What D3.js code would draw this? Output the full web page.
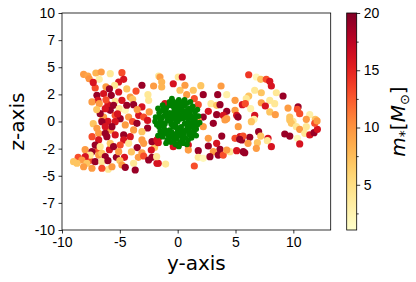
<!DOCTYPE html>
<meta charset="utf-8">
<title>stars</title>
<style>
    body { margin: 0; background: #fff; }
    svg { display: block; font-family: "DejaVu Sans", sans-serif; }
    .axis text { font-size: 14px; fill: #000; }
    .axis line { stroke: #000; stroke-width: 0.8; }
    .axis .domain { display: none; }
    .frame { fill: none; stroke: #000; stroke-width: 0.8; }
</style>
<body>
<svg id="chart" width="416" height="282"></svg>
<script src="https://cdn.jsdelivr.net/npm/d3@7"></script>
<script>
    // ticks
    var xTicks = [-10, -5, 0, 5, 10];
    var yTicks = [-10, -7.5, -5, -2.5, 0, 2.5, 5, 7.5, 10];
    var cbarTicks = [5, 10, 15, 20];
    var cbarMinor = [2.5, 7.5, 12.5, 17.5];

    // stars: [y, z, mass]
    var stars = [
        [-8.13, 4.35, 9.5], [-7.76, 4.19, 9], [-7.65, 3.94, 10], [-7.07, 4.47, 8], [-6.61, 4.56, 9.5],
        [-6.78, 3.89, 3], [-5.83, 4.41, 4], [-4.82, 4.5, 13], [-4.67, 3.89, 16], [-5.1, 3.64, 16],
        [-5.45, 3.34, 4], [-7.13, 3.09, 13], [-6.98, 2.41, 19], [-6.4, 2.56, 16], [-5.74, 2.41, 19],
        [-5.1, 2.72, 16], [-5.4, 1.86, 4], [-4.82, 1.95, 16], [-4.1, 2.26, 9.5], [-3.89, 2.05, 7],
        [-3.09, 3.34, 19], [-2.08, 3.27, 9.5], [-2.57, 2.47, 4], [-2.51, 1.95, 4], [-3.81, 1.55, 19],
        [-3.09, 1.34, 16], [-6.89, 1.95, 16], [-6.78, 1.64, 9.5], [-6.03, 1.55, 16], [-5.54, 1.49, 19],
        [-5.83, 1.03, 19], [-6.26, 1.18, 16], [-5.05, 1.18, 4], [-4.53, 1.03, 2], [-6.4, 0.41, 9.5],
        [-6.55, 0.11, 9.5], [-5.4, 0.57, 13], [-4.97, 0.26, 19], [-4.24, 0.41, 9.5], [-3.37, 0.57, 16],
        [-2.94, 0.41, 13], [-2.46, 0.88, 9.5], [-1.64, 4.19, 4], [-6.7, 0.72, 19], [-6.03, 0.02, 16],
        [-7.41, 1.8, 9.5],
        [-7.3, 3.6, 16], [-6.2, 3.2, 9.5], [-5.9, 3.0, 19], [-4.4, 3.0, 7], [-3.6, 2.8, 13],
        [-6.2, 2.0, 13], [-4.4, 1.5, 19], [-3.5, 1.1, 9.5], [-7.0, 1.1, 7], [-5.2, 0.7, 16],
        [-3.9, 0.0, 13], [-2.6, 0.1, 16], [-2.6, -0.6, 19], [-7.3, -0.2, 7], [-7.4, -1.4, 13],
        [-5.8, -0.8, 9.5], [-4.1, -1.4, 16], [-3.5, -2.4, 19], [-4.0, -2.8, 7], [-5.9, -2.6, 16],
        [-6.9, -2.6, 13], [-8.0, -2.6, 9.5], [-7.6, -3.6, 13], [-5.3, -3.3, 19], [-4.6, -3.3, 16],
        [-3.4, -3.3, 9.5], [-2.0, -2.4, 7], [-8.6, -3.3, 13], [-5.0, -3.6, 7], [-6.0, -4.4, 4],
        [-6.55, -0.02, 19], [-5.4, -0.02, 16], [-4.53, -0.32, 9.5], [-3.52, -0.17, 19], [-3.81, -0.78, 9.5],
        [-3.09, -0.94, 7], [-6.83, -1.09, 9.5], [-6.26, -1.09, 19], [-6.12, -1.4, 19], [-5.4, -1.24, 16],
        [-4.67, -1.24, 19], [-4.67, -1.7, 16], [-6.83, -1.7, 16], [-7.13, -2.17, 19], [-6.7, -2.32, 4],
        [-5.83, -2.01, 7], [-5.54, -2.32, 19], [-4.97, -2.17, 13], [-5.1, -2.78, 9.5], [-4.24, -2.01, 4],
        [-3.09, -1.7, 9.5], [-2.94, -2.01, 9.5], [-2.22, -1.86, 19], [-1.79, -1.7, 16], [-2.28, -2.63, 16],
        [-3.09, -2.88, 9.5], [-2.94, -3.18, 13], [-2.51, -3.55, 19], [-2.22, -3.3, 19], [-1.79, -3.85, 16],
        [-7.41, -2.78, 19], [-7.56, -3.09, 4], [-6.83, -3.09, 9.5], [-6.55, -2.93, 7], [-6.26, -3.24, 19],
        [-7.99, -3.24, 16], [-8.28, -3.55, 9.5], [-8.71, -3.85, 7], [-7.85, -3.85, 7], [-8.13, -4.17, 9.5],
        [-7.13, -3.7, 19], [-6.55, -3.7, 4], [-6.03, -3.61, 19], [-7.41, -4.31, 9.5], [-6.55, -4.31, 13],
        [-5.68, -4.17, 9.5], [-4.82, -4.01, 9.5], [-4.53, -4.22, 19], [-3.81, -3.85, 4], [-3.67, -4.47, 19],
        [-9.0, -3.7, 7], [-5.68, -0.48, 19], [-6.26, -0.48, 16], [-6.98, -0.63, 9.5],
        [-1.53, 4.1, 9.5], [-1.38, 3.64, 8], [-1.38, 3.18, 8], [-0.38, 3.48, 16], [0.05, 4.1, 4],
        [0.4, 4.1, 17], [0.2, 2.88, 7], [0.63, 3.34, 9.5], [0.78, 2.47, 9.5], [1.35, 2.88, 7],
        [1.44, 2.1, 13], [1.78, 1.55, 13], [2.0, 3.3, 7], [2.21, 2.47, 19], [2.88, 1.64, 4],
        [3.37, 1.49, 7], [3.66, 1.55, 19], [3.46, 2.47, 19], [3.75, 3.27, 9.5], [4.24, 2.47, 3],
        [4.96, 1.95, 9.5], [5.59, 1.55, 16], [2.65, 0.94, 16], [3.37, 0.63, 19], [4.24, 0.94, 19],
        [3.94, 0.57, 16], [4.96, 1.03, 9.5], [5.1, 0.57, 16], [4.24, 0.26, 9.5], [2.21, 0.41, 19],
        [1.78, 0.11, 9.5], [-1.1, 1.64, 16],
        [2.21, -0.48, 9.5], [3.08, -0.17, 19], [4.09, 0.14, 9.5], [5.24, -0.48, 9.5], [2.65, -1.55, 9.5],
        [3.81, -1.34, 19], [3.37, -2.01, 16], [2.65, -2.26, 19], [3.66, -2.56, 19], [3.08, -2.78, 9.5],
        [1.78, -2.69, 19], [0.92, -2.17, 16], [0.92, -2.63, 9.5], [-0.38, -2.32, 16], [0.05, -2.17, 19],
        [-1.68, -1.55, 16], [-1.68, -1.95, 16], [1.78, -3.3, 4], [2.21, -3.39, 2], [2.79, -3.24, 19],
        [3.51, -3.09, 19], [3.94, -3.09, 13], [4.52, -2.78, 4], [5.1, -2.69, 16], [5.67, -2.78, 19],
        [5.39, -1.4, 16], [4.96, -1.55, 13], [5.54, -1.7, 19], [-1.68, -3.85, 16], [-1.04, -3.92, 4],
        [-1.82, -3.24, 4], [1.44, -4.1, 13], [4.24, -2.63, 9.5],
        [6.14, 4.31, 14], [6.8, 4.1, 2], [7.18, 3.89, 7], [7.66, 3.89, 13], [7.96, 3.7, 16],
        [8.1, 3.27, 16], [6.66, 2.88, 4], [7.23, 2.65, 7], [6.14, 2.35, 7], [5.93, 2.1, 4],
        [8.53, 2.65, 4], [9.11, 2.35, 19], [7.96, 1.95, 4], [8.39, 1.64, 4], [7.23, 1.73, 9.5],
        [5.85, 1.64, 13], [7.58, 1.43, 16], [6.31, 1.18, 3], [9.54, 1.24, 9.5], [10.41, 1.34, 19],
        [10.35, 1.12, 13], [10.55, 0.72, 13], [7.96, 0.88, 7], [8.44, 0.63, 9.5], [6.66, 0.57, 16],
        [6.6, 0.2, 3], [11.42, 0.63, 3], [11.12, 0.2, 9.5], [11.9, 0.2, 7], [9.69, 0.41, 7],
        [9.97, 0.02, 4], [5.22, 0.41, 19],
        [6.37, -0.02, 7], [7.0, -0.94, 19], [7.18, -1.34, 7], [7.81, -1.55, 16], [7.75, -1.77, 4],
        [6.23, -1.46, 19], [5.65, -1.34, 13], [5.36, -1.64, 19], [6.08, -2.01, 9.5], [6.89, -1.95, 7],
        [6.8, -2.47, 9.5], [8.1, -2.32, 16], [5.8, -2.88, 19], [9.26, -1.15, 19], [9.69, -1.34, 19],
        [9.83, -0.17, 7], [10.26, -0.48, 4], [10.55, -0.72, 9.5], [11.12, -0.48, 4], [10.99, -1.09, 4],
        [10.35, -1.55, 2], [10.55, -2.07, 16], [11.42, -1.24, 16], [11.79, -1.03, 19], [12.08, -0.72, 16],
        [11.85, -0.17, 13], [12.05, 0.05, 9.5], [9.69, 0.14, 7]
    ];

    // central cluster: [y, z]
    var cluster = [
        [0, 0], [0.5, 0.3], [-0.5, 0.4], [0.3, -0.5], [-0.4, -0.5], [0.9, 0], [-0.9, 0.1], [0, 0.9],
        [0, -0.9], [0.7, 0.8], [-0.7, 0.8], [0.7, -0.8], [-0.7, -0.8], [1.2, 0.5], [-1.2, 0.5], [1.2, -0.5],
        [-1.2, -0.5], [0.4, 1.4], [-0.4, 1.4], [0.4, -1.4], [-0.4, -1.4], [1.5, 0.1], [-1.5, 0], [1.0, 1.2],
        [-1.0, 1.2], [1.0, -1.2], [-1.0, -1.1], [0, 1.8], [0.2, -1.9], [-0.3, -1.7], [1.5, 0.9], [-1.6, 0.8],
        [1.4, -1.0], [-1.5, -0.9], [1.7, -0.3], [-1.8, -0.3], [0.8, 1.7], [-0.7, 1.8], [0.9, -1.7], [-0.9, -1.7],
        [1.8, 0.5], [-1.9, 0.4], [0.1, 2.0], [-0.2, -2.1], [0.5, -2.0], [-1.3, 1.5], [1.3, 1.4], [1.2, -1.5],
        [-1.3, -1.4], [-0.2, 0.2], [0.2, 0.6], [-0.2, -0.2], [0.6, -0.2], [-0.6, 0], [0.3, 1.1], [-0.3, 1.0],
        [0.2, -1.1], [-0.2, -1.2], [1.1, -0.2], [-1.1, -0.2], [0.6, 2.0], [-1.7, 1.2], [1.7, 1.1], [-1.7, -1.3],
        [1.6, -1.3], [0.1, -2.3], [-0.5, 2.1], [1.1, 1.8], [-1.0, -2.0], [0.8, -2.1],
        [0.25, 0.25], [-0.25, 0.65], [0.45, 0.95], [-0.85, 0.45], [0.85, -0.45], [-0.5, -1.0],
        [0.55, -1.1], [1.35, -0.25], [-1.35, -0.2], [-1.4, 0.25], [0.9, 0.4], [-0.2, 1.6],
        [0.2, 1.65], [-0.1, -1.6], [1.05, 0.75], [-1.05, 0.85], [1.0, -0.85], [-1.1, -0.8],
        [1.6, 0.5], [-1.6, 0.4], [1.6, -0.7], [-1.6, -0.5], [0.6, 1.45], [-0.7, 1.5],
        [0.65, -1.5], [-0.65, -1.45], [1.25, 1.1], [-1.3, 1.0], [1.2, -1.2], [-1.3, -1.1],
        [0.45, 1.8], [-0.4, 1.85], [0.4, -1.75], [-0.6, -1.9], [1.9, -0.1], [-1.95, 0],
        [0.6, 0.55], [-0.55, -0.25], [0.1, 0.45], [-0.1, -0.55], [0.35, -0.85], [-0.35, 0.75],
        [0.8, 1.0], [-0.8, -1.3], [1.3, 0.2], [-1.2, 1.2], [0.0, 1.3], [0.0, -1.35], [1.45, -0.6],
        [-1.5, -0.3]
    ];

    var svg = d3.select("#chart");
    var plotLeft = 62, plotRight = 330.7, plotTop = 13, plotBottom = 230;

    var x = d3.scaleLinear().domain([-10, 13.23]).range([plotLeft, plotRight]);
    var y = d3.scaleLinear().domain([-10, 10]).range([plotBottom, plotTop]);
    var massMin = 1.05, massMax = 20;
    var color = d3.scaleSequential(d3.interpolateYlOrRd).domain([massMin, massMax]).clamp(true);

    svg.append("g")
        .attr("class", "axis")
        .attr("transform", "translate(0," + plotBottom + ")")
        .call(d3.axisBottom(x).tickValues(xTicks).tickSize(3.5).tickPadding(3.5)
            .tickFormat(function(d) { return String(d); }));
    svg.append("g")
        .attr("class", "axis")
        .attr("transform", "translate(" + plotLeft + ",0)")
        .call(d3.axisLeft(y).tickValues(yTicks).tickSize(3.5).tickPadding(3.5)
            .tickFormat(function(d) { return String(Math.trunc(d)); }));

    svg.append("g").selectAll("circle")
        .data(stars)
        .enter().append("circle")
        .attr("cx", function(d) { return x(d[0]); })
        .attr("cy", function(d) { return y(d[1]); })
        .attr("r", 3.6)
        .attr("fill", function(d) { return color(d[2]); });

    svg.append("g").selectAll("circle")
        .data(cluster)
        .enter().append("circle")
        .attr("cx", function(d) { return x(d[0]); })
        .attr("cy", function(d) { return y(d[1]); })
        .attr("r", 2.9)
        .attr("fill", "#008000");

    svg.append("rect").attr("class", "frame")
        .attr("x", plotLeft).attr("y", plotTop)
        .attr("width", plotRight - plotLeft).attr("height", plotBottom - plotTop);

    // axis labels
    svg.append("text")
        .attr("x", (plotLeft + plotRight) / 2).attr("y", 270)
        .attr("text-anchor", "middle")
        .style("font-size", "20px")
        .text("y-axis");
    svg.append("text")
        .attr("transform", "translate(24," + (plotTop + plotBottom) / 2 + ") rotate(-90)")
        .attr("text-anchor", "middle")
        .style("font-size", "20px")
        .text("z-axis");

    // colorbar
    var cbX = 346.7, cbW = 10;
    var cy = d3.scaleLinear().domain([massMin, massMax]).range([plotBottom, plotTop]);
    var grad = svg.append("defs").append("linearGradient")
        .attr("id", "cbar").attr("x1", 0).attr("y1", 1).attr("x2", 0).attr("y2", 0);
    d3.range(0, 1.0001, 0.05).forEach(function(t) {
        grad.append("stop").attr("offset", t).attr("stop-color", d3.interpolateYlOrRd(t));
    });
    svg.append("rect")
        .attr("x", cbX).attr("y", plotTop).attr("width", cbW).attr("height", plotBottom - plotTop)
        .attr("fill", "url(#cbar)");
    svg.append("g")
        .attr("class", "axis")
        .attr("transform", "translate(" + (cbX + cbW) + ",0)")
        .call(d3.axisRight(cy).tickValues(cbarTicks).tickSize(3.5).tickPadding(3.5));
    svg.append("g")
        .attr("class", "axis")
        .attr("transform", "translate(" + (cbX + cbW) + ",0)")
        .call(d3.axisRight(cy).tickValues(cbarMinor).tickSize(2).tickFormat(""));
    svg.append("rect").attr("class", "frame")
        .attr("x", cbX).attr("y", plotTop).attr("width", cbW).attr("height", plotBottom - plotTop);

    var lab = svg.append("text")
        .attr("transform", "translate(405," + (plotTop + plotBottom) / 2 + ") rotate(-90)")
        .attr("text-anchor", "middle")
        .style("font-size", "20px");
    lab.append("tspan").style("font-style", "italic").text("m");
    lab.append("tspan").attr("dy", 4).style("font-size", "14px").text("*");
    lab.append("tspan").attr("dy", -4).text("[");
    lab.append("tspan").style("font-style", "italic").text("M");
    lab.append("tspan").attr("dy", 4).style("font-size", "13px").text("⊙");
    lab.append("tspan").attr("dy", -4).text("]");
</script>
</body>
